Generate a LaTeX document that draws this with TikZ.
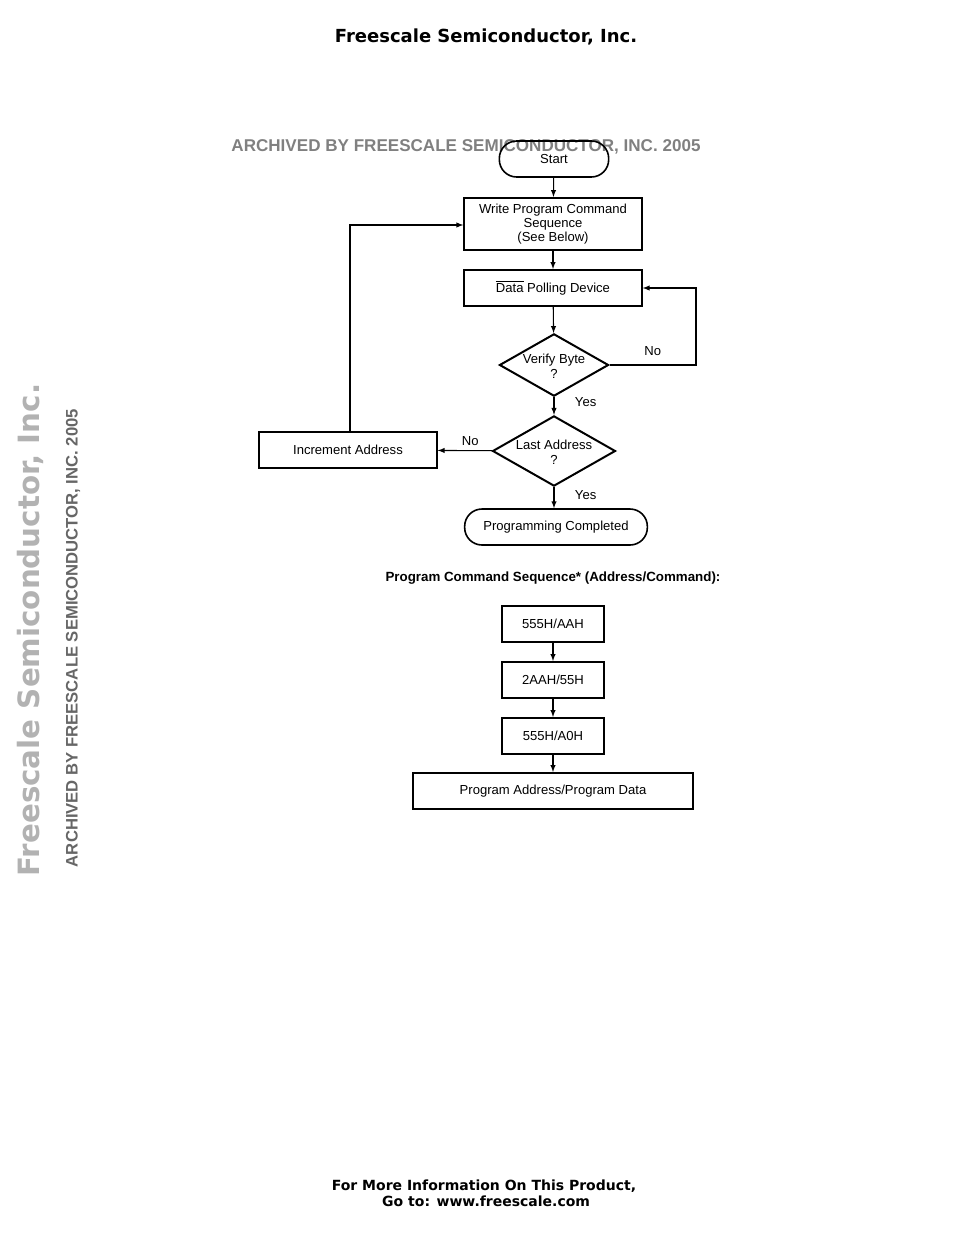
\documentclass[tikz,border=0pt]{standalone}
\usepackage{fontspec}
\setmainfont{Liberation Sans}
\newfontfamily\widefont{DejaVu Sans}
\usetikzlibrary{arrows,shapes.geometric}
\begin{document}
\begin{tikzpicture}[x=0.75pt,y=-0.75pt,>=latex,font=\fontsize{9.8}{11.5}\selectfont,
    box/.style={draw,line width=1.5pt,minimum height=27pt,align=center},
    term/.style={draw,line width=1.2pt,rounded corners=13pt,minimum height=27pt},
    dec/.style={draw,diamond,line width=1.5pt,aspect=1.75,minimum width=79pt,minimum height=45pt,inner sep=0pt,align=center},
    flow/.style={->,line width=0.8pt}]
    \useasboundingbox (0,0) rectangle (954,1235);
    % page texts
    \node[font=\widefont\fontsize{13.5}{16}\selectfont\bfseries] (title) at (486,37) {Freescale Semiconductor, Inc.};
    \node[text=gray,font=\fontsize{12.8}{15}\selectfont\bfseries] (arch) at (466,147) {ARCHIVED BY FREESCALE SEMICONDUCTOR, INC. 2005};
    \node[text=gray!60,rotate=90,font=\widefont\fontsize{22}{26}\selectfont\bfseries] (side) at (30,630) {Freescale Semiconductor, Inc.};
    \node[text=gray!80!black,rotate=90,font=\fontsize{12.5}{14}\selectfont\bfseries] (sidearch) at (73,638) {ARCHIVED BY FREESCALE SEMICONDUCTOR, INC. 2005};
    \node[font=\widefont\fontsize{10.5}{12}\selectfont\bfseries,align=left] (foot) at (484,1193) {For More Information On This Product,\\\hspace{3.6em}Go to: www.freescale.com};

    % flowchart
    \node[term,minimum width=82pt] (start) at (554,159) {Start};
    \node[box,minimum width=133pt,minimum height=39pt,inner sep=1pt] (write) at (553,224) {Write Program Command\\[-1pt]Sequence\\[-1pt](See Below)};
    \node[box,minimum width=133pt] (poll) at (553,288) {$\overline{\mbox{Data}}$ Polling Device};
    \node[dec] (verify) at (554,365) {\\[-3pt]Verify Byte\\?};
    \node[dec] (last) at (554,451) {\\[-3pt]Last Address\\?};
    \node[term,minimum width=137pt] (done) at (556,527) {Programming Completed};
    \node[box,minimum width=133pt] (inc) at (348,450) {Increment Address};

    \draw[flow] (start) -- (write);
    \draw[flow] (write) -- (poll);
    \draw[flow] (poll) -- (verify);
    \draw[flow] (verify) -- node[right,pos=0.3,xshift=12pt] {Yes} (last);
    \draw[flow] (last.south) -- node[right,pos=0.4,xshift=12pt] {Yes} (last.south |- done.north);
    \draw[flow] (verify.east) -- (696,365) node[pos=0.5,above=3pt] {No} |- (poll.east);
    \draw[flow] (last) -- node[above,pos=0.4] {No} (inc);
    \draw[flow] (inc.north -| 350,0) -- (350,225) -- (write.west |- 0,225);

    % command sequence
    \node[font=\fontsize{10}{12}\selectfont\bfseries] (seqtitle) at (553,578) {Program Command Sequence* (Address/Command):};
    \node[box,minimum width=77pt] (c1) at (553,624) {555H/AAH};
    \node[box,minimum width=77pt] (c2) at (553,680) {2AAH/55H};
    \node[box,minimum width=77pt] (c3) at (553,736) {555H/A0H};
    \node[box,minimum width=210pt] (c4) at (553,791) {Program Address/Program Data};
    \draw[flow] (c1) -- (c2);
    \draw[flow] (c2) -- (c3);
    \draw[flow] (c3) -- (c4);
\end{tikzpicture}
\end{document}
